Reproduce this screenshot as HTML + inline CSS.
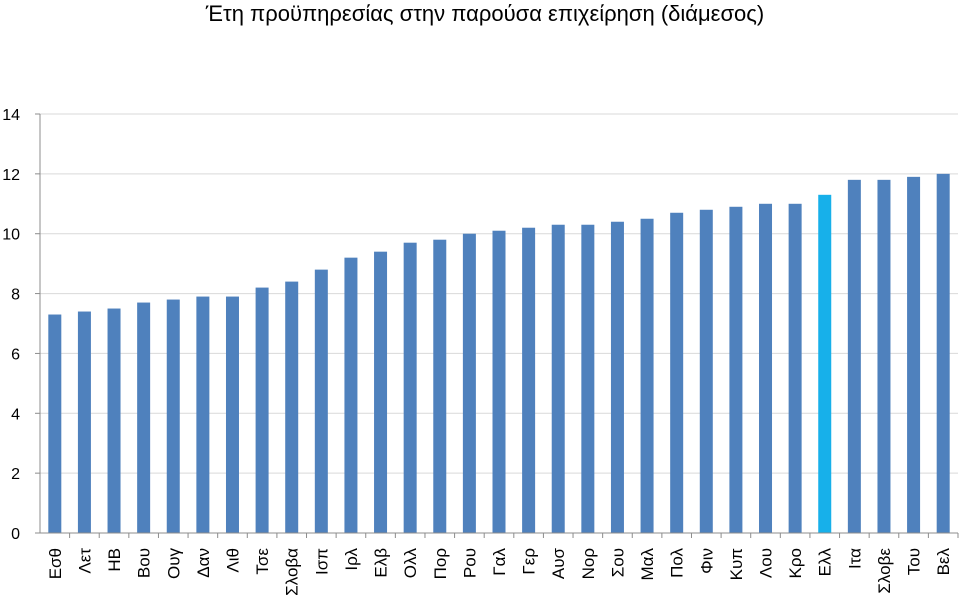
<!DOCTYPE html>
<html><head><meta charset="utf-8"><style>
body{margin:0;background:#fff;}
svg{display:block;font-family:"Liberation Sans","DejaVu Sans",sans-serif;}
</style></head><body>
<svg id="c" width="960" height="612">
<text x="485" y="21" text-anchor="middle" font-size="22" fill="#000">Έτη προϋπηρεσίας στην παρούσα επιχείρηση (διάμεσος)</text>
</svg>
<script>
const categories=["Εσθ","Λετ","ΗΒ","Βου","Ουγ","Δαν","Λιθ","Τσε","Σλοβα","Ισπ","Ιρλ","Ελβ","Ολλ","Πορ","Ρου","Γαλ","Γερ","Αυσ","Νορ","Σου","Μαλ","Πολ","Φιν","Κυπ","Λου","Κρο","Ελλ","Ιτα","Σλοβε","Του","Βελ"];
const values=[7.3,7.4,7.5,7.7,7.8,7.9,7.9,8.2,8.4,8.8,9.2,9.4,9.7,9.8,10.0,10.1,10.2,10.3,10.3,10.4,10.5,10.7,10.8,10.9,11.0,11.0,11.3,11.8,11.8,11.9,12.0];
const yTicks=[0,2,4,6,8,10,12,14];
const highlight="Ελλ";
const svg=document.getElementById('c');
const NS="http://www.w3.org/2000/svg";
const x0=40,x1=958,y0=533,y1=114,yMax=14;
const bw=(x1-x0)/categories.length;
const y=v=>y0-(y0-y1)*v/yMax;
const xc=i=>x0+bw*(i+0.5);
function mk(t,a){const e=document.createElementNS(NS,t);for(const k in a)e.setAttribute(k,a[k]);svg.appendChild(e);return e;}
yTicks.forEach(t=>{
  if(t>0){const g=mk('line',{x1:x0,x2:x1,y1:y(t),y2:y(t),stroke:'#d9d9d9','stroke-width':1});
  
  }
  const tk=mk('line',{x1:x0-5,x2:x0,y1:y(t),y2:y(t),stroke:'#8c8c8c'});
  
  
  const l=mk('text',{x:20,y:y(t)+6,'text-anchor':'end','font-size':16,fill:'#000'});
  l.textContent=t;
  
  
});
const ya=mk('line',{x1:x0,x2:x0,y1:y1,y2:y0,stroke:'#8c8c8c'});


categories.forEach((c,i)=>{
  const v=values[i];
  const r=mk('rect',{x:xc(i)-6.5,y:y(v),width:13,height:y0-y(v),fill:c===highlight?'#17b0ea':'#4f81bd'});
  
  
  const tk=mk('line',{x1:x0+bw*(i+1),x2:x0+bw*(i+1),y1:y0,y2:y0+5,stroke:'#8c8c8c'});
  
  
  const t=mk('text',{x:0,y:0,'text-anchor':'end','font-size':17,fill:'#000',transform:`translate(${xc(i)+6},548) rotate(-90)`});
  t.textContent=c;
  
  
});
const xa=mk('line',{x1:x0,x2:x1,y1:y0,y2:y0,stroke:'#8c8c8c'});


</script>
</body></html>
